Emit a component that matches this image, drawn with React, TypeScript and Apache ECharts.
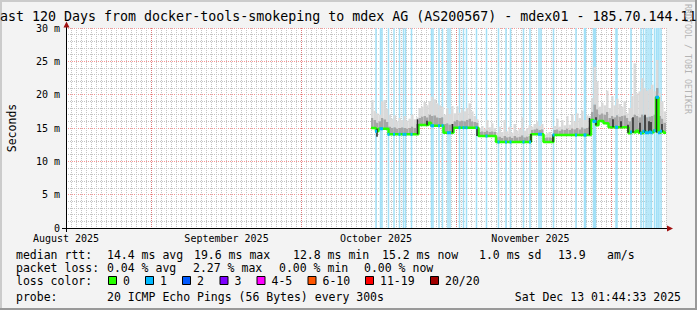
import React, { useEffect, useRef } from 'react';
import * as echarts from 'echarts';

// ---------- data ----------
const titleText = 'ast 120 Days from docker-tools-smokeping to mdex AG (AS200567) - mdex01 - 185.70.144.11';
const yAxisName = 'Seconds';
const watermark = 'RRDTOOL / TOBI OETIKER';

const monthLabels = ['August 2025', 'September 2025', 'October 2025', 'November 2025'];
const monthLabelDays = [0, 32.1, 62, 92.9];
const monthStartDays = [17, 47, 78, 109];

const sampleStartDay = 61;
const sampleStepDays = 0.5;
const axisEndDay = 120;

const medianMs = [
  15.0, 15.0, 14.5, 14.9, 14.9, 14.9, 14.9,
  14.05, 14.05, 14.05, 14.05, 14.05, 14.05, 14.05, 14.05, 14.05, 14.05, 14.05, 14.05,
  15.45, 15.45, 15.45, 15.45, 15.8, 15.35, 15.35, 15.35, 15.35, 15.35,
  14.3, 14.3, 14.3, 14.3,
  15.05, 15.05, 15.05, 15.05, 15.05, 15.05, 15.05, 15.05, 15.05, 15.05,
  13.8, 13.8, 13.8, 13.8, 13.8, 13.8, 13.8,
  12.9, 12.9, 12.9, 12.9, 12.9, 12.9, 12.9, 12.9, 12.9, 12.9, 12.9, 12.9, 12.9, 12.9,
  14.05, 14.05, 14.05, 14.05, 14.05,
  12.9, 12.9, 12.9, 12.9,
  13.95, 13.95, 13.95, 13.95, 13.95, 13.95, 13.95, 13.95, 13.95, 13.95, 13.95, 13.95, 13.95, 13.95, 13.95,
  16.2, 16.0, 15.4, 16.05, 16.05, 15.7, 15.7,
  15.1, 15.1, 15.1, 15.1, 15.1, 15.1, 15.1, 15.1,
  14.2, 14.4, 14.3, 14.6, 14.3, 14.2, 14.5, 14.3, 14.4, 14.3, 14.6, 19.6, 14.3, 14.5, 14.3,
];

const smokeMidMs = [
  16.5, 16.2, 15.8, 16.0, 16.5, 16.3, 15.9, 15.2, 15.0, 15.1,
  14.9, 15.0, 15.1, 15.0, 14.9, 15.0, 15.2, 15.0, 15.6, 16.5,
  16.7, 16.8, 16.6, 17.0, 16.8, 16.9, 16.6, 16.5, 16.6, 15.6,
  15.7, 15.5, 15.6, 16.0, 16.2, 16.0, 16.1, 16.0, 16.2, 16.4,
  16.0, 15.9, 15.8, 14.4, 14.5, 14.4, 14.6, 14.4, 14.5, 14.4,
  13.6, 13.7, 13.5, 13.8, 13.6, 13.7, 13.5, 13.8, 13.6, 13.7,
  13.9, 13.6, 13.7, 13.8, 14.7, 14.8, 14.9, 14.7, 14.8, 13.5,
  13.6, 13.6, 13.5, 14.7, 14.8, 14.6, 14.8, 14.7, 14.9, 14.7,
  14.9, 14.8, 15.0, 14.8, 15.1, 14.9, 15.0, 15.2, 17.4, 18.5,
  17.8, 17.0, 17.2, 17.0, 17.4, 16.5, 16.8, 16.6, 16.9, 16.7,
  16.8, 16.9, 16.5, 16.0, 16.5, 17.0, 16.8, 16.6, 17.0, 16.8,
  16.6, 16.7, 16.8, 17.0, 21.0, 16.8, 16.4, 15.8,
];

const smokeMaxMs = [
  19.2, 17.6, 17.2, 17.0, 19.0, 19.2, 17.9, 17.0, 16.4, 16.9,
  16.0, 16.5, 16.2, 16.8, 16.1, 16.4, 17.0, 16.3, 16.6, 18.0,
  18.2, 18.9, 18.4, 19.0, 19.7, 19.3, 18.7, 18.4, 18.2, 17.0,
  18.0, 17.1, 18.3, 17.2, 18.3, 17.3, 17.8, 17.5, 18.0, 18.7,
  17.5, 16.8, 16.3, 15.0, 15.3, 14.9, 16.2, 15.1, 15.7, 15.0,
  14.3, 15.2, 14.4, 16.2, 14.5, 15.2, 14.3, 15.6, 14.6, 14.9,
  16.6, 14.6, 15.0, 15.4, 15.2, 15.6, 16.0, 15.3, 15.6, 14.0,
  14.2, 14.4, 14.0, 15.3, 16.4, 15.2, 16.2, 15.4, 16.8, 15.5,
  17.0, 16.0, 17.2, 16.5, 17.6, 16.2, 16.9, 16.8, 19.5, 24.2,
  22.0, 18.2, 18.8, 18.4, 20.6, 18.0, 19.8, 18.4, 19.4, 18.6,
  18.2, 19.0, 17.2, 18.0, 19.8, 24.7, 20.2, 20.5, 22.5, 21.0,
  20.6, 20.8, 21.5, 20.5, 25.2, 20.2, 19.0, 17.5,
];

// [day, low ms, high ms] of the dark smoke strokes
const darkSpikes = [
  [62.2, 13.7, 14.9], [70.3, 14.05, 16.3], [72.2, 15.4, 16.1], [77.3, 14.3, 15.6],
  [82.2, 13.8, 15.1], [93.0, 12.9, 14.1], [97.4, 12.9, 14.0], [104.7, 13.95, 16.5],
  [106.0, 15.4, 16.6], [109.4, 15.1, 16.3], [111.0, 15.1, 16.0], [112.4, 14.3, 15.5],
  [113.4, 14.3, 16.6], [114.8, 14.3, 15.8], [115.8, 14.3, 17.0], [116.6, 14.4, 16.0],
  [117.0, 14.4, 15.9], [118.1, 14.3, 19.7], [119.2, 14.4, 15.6],
];

// days with packet loss (drawn as light-blue background lines)
const lossDays = [
  62.0, 62.9, 63.2, 64.5, 65.6, 66.7, 67.5, 67.9, 69.1, 73.1, 73.4, 74.6, 75.3,
  76.4, 76.8, 78.7, 79.5, 80.1, 82.1, 84.1, 86.5, 88.0, 88.9, 91.5, 92.8, 94.6,
  95.0, 97.5, 102.0, 103.7, 103.9, 105.5, 105.7, 105.9, 110.0, 110.2, 113.0, 115.0,
  115.5, 116.0, 116.4, 116.8, 117.1, 117.7, 118.1, 118.4, 118.6, 119.0,
];

const medianLabel = 'median rtt:';
const medianStats = ['14.4 ms avg', '19.6 ms max', '12.8 ms min', '15.2 ms now', '1.0 ms sd', '13.9', 'am/s'];
const lossLabel = 'packet loss:';
const lossStats = ['0.04 % avg', '2.27 % max', '0.00 % min', '0.00 % now'];
const lossColorLabel = 'loss color:';
const lossColorNames = ['0', '1', '2', '3', '4-5', '6-10', '11-19', '20/20'];
const lossColorValues = ['#26ff00', '#00b8ff', '#0059ff', '#7e00ff', '#ff00ff', '#ff5500', '#ff0000', '#a10000'];
const probeLabel = 'probe:';
const probeText = '20 ICMP Echo Pings (56 Bytes) every 300s';
const dateText = 'Sat Dec 13 01:44:33 2025';

// ---------- layout ----------
const W = 697;
const H = 310;
const MONO = '"DejaVu Sans Mono", monospace';
const LEG_FONT = `11.5px ${MONO}`;
const medianStatX = [107, 194, 293, 382, 479, 558, 607];
const lossStatX = [107, 193, 279, 364];
const lossBoxX = [108, 145, 182, 219.5, 256.5, 307.5, 365, 430];
const rowY = [255, 268, 281, 297];
const LOSS_BG = '#a2e0f7';
const GRID_MINOR = '#c4c4c4';
const GRID_MAJOR = 'rgba(240,60,60,0.55)';

function legendText(text: string, x: number, y: number, align = 'left') {
  return {
    type: 'text',
    x,
    y,
    silent: true,
    style: {
      text,
      fill: '#000',
      font: LEG_FONT,
      align,
      verticalAlign: 'middle',
      textAlign: align,
      textVerticalAlign: 'middle',
    },
  };
}

export default function App() {
  const ref = useRef<HTMLDivElement>(null);

  useEffect(() => {
    if (!ref.current) return;
    const chart = echarts.init(ref.current, undefined, { renderer: 'svg' });

    const sampleDays = medianMs.map((_, i) => sampleStartDay + i * sampleStepDays);
    const last = medianMs.length - 1;
    const medianLine = medianMs.map((v, i) => [sampleDays[i], v]);
    medianLine.push([axisEndDay, medianMs[last]]);
    const smokeData = medianMs.map((m, i) => [sampleDays[i], m, smokeMidMs[i], smokeMaxMs[i]]);

    const medianAt = (d: number) => {
      const idx = Math.floor((d - sampleStartDay) / sampleStepDays);
      return medianMs[Math.max(0, Math.min(last, idx))];
    };
    const lossDots = lossDays.filter((d) => d >= sampleStartDay).map((d) => [d, medianAt(d)]);

    const graphic: any[] = [
      // frame
      { type: 'line', silent: true, shape: { x1: 0, y1: 1, x2: W, y2: 1 }, style: { stroke: '#cbcbcb', lineWidth: 2 } },
      { type: 'line', silent: true, shape: { x1: 1, y1: 0, x2: 1, y2: H }, style: { stroke: '#cbcbcb', lineWidth: 2 } },
      { type: 'line', silent: true, shape: { x1: 0, y1: H - 1, x2: W, y2: H - 1 }, style: { stroke: '#999999', lineWidth: 2 } },
      { type: 'line', silent: true, shape: { x1: W - 1, y1: 0, x2: W - 1, y2: H }, style: { stroke: '#999999', lineWidth: 2 } },
      // title
      {
        type: 'text', x: 0, y: 16.5, silent: true,
        style: { text: titleText, fill: '#000', font: `13.3px ${MONO}`, align: 'left', verticalAlign: 'middle', textAlign: 'left', textVerticalAlign: 'middle' },
      },
      // y axis name
      {
        type: 'text', x: 12, y: 128, rotation: Math.PI / 2, silent: true,
        style: { text: yAxisName, fill: '#000', font: `11.5px ${MONO}`, align: 'center', verticalAlign: 'middle', textAlign: 'center', textVerticalAlign: 'middle' },
      },
      // watermark
      {
        type: 'text', x: 688, y: 59, rotation: -Math.PI / 2, silent: true,
        style: { text: watermark, fill: '#b4b4b4', font: `8.3px ${MONO}`, align: 'center', verticalAlign: 'middle', textAlign: 'center', textVerticalAlign: 'middle' },
      },
      // axis extensions and arrows
      { type: 'line', silent: true, z: 10, shape: { x1: 62, y1: 228.5, x2: 668, y2: 228.5 }, style: { stroke: '#000', lineWidth: 1 } },
      { type: 'line', silent: true, z: 10, shape: { x1: 66.5, y1: 232, x2: 66.5, y2: 27 }, style: { stroke: '#000', lineWidth: 1 } },
      { type: 'polygon', silent: true, z: 10, shape: { points: [[667, 225.5], [667, 231.5], [673, 228.5]] }, style: { fill: '#a01010' } },
      { type: 'polygon', silent: true, z: 10, shape: { points: [[63.5, 27.5], [69.5, 27.5], [66.5, 21.5]] }, style: { fill: '#a01010' } },
      // legend
      legendText(medianLabel, 16, rowY[0]),
      ...medianStats.map((t, i) => legendText(t, medianStatX[i], rowY[0])),
      legendText(lossLabel, 16, rowY[1]),
      ...lossStats.map((t, i) => legendText(t, lossStatX[i], rowY[1])),
      legendText(lossColorLabel, 16, rowY[2]),
      ...lossColorNames.map((t, i) => legendText(t, lossBoxX[i] + 15, rowY[2])),
      ...lossColorValues.map((c, i) => ({
        type: 'rect', silent: true,
        shape: { x: lossBoxX[i] + 0.5, y: rowY[2] - 4.5, width: 8, height: 8 },
        style: { fill: c, stroke: '#000', lineWidth: 1 },
      })),
      legendText(probeLabel, 16, rowY[3]),
      legendText(probeText, 107, rowY[3]),
      legendText(dateText, 681, rowY[3], 'right'),
    ];

    const option: any = {
      animation: false,
      backgroundColor: '#f3f3f3',
      grid: { left: 66, top: 28, width: 600, height: 200, show: true, backgroundColor: '#ffffff', borderWidth: 0 },
      xAxis: {
        type: 'value', min: 0, max: axisEndDay, interval: 1,
        axisLine: { show: true, lineStyle: { color: '#000', width: 1 } },
        axisTick: { show: false },
        axisLabel: {
          show: true,
          customValues: monthLabelDays,
          formatter: (v: number) => {
            const k = monthLabelDays.findIndex((d) => Math.abs(d - v) < 1e-6);
            return k >= 0 ? monthLabels[k] : '';
          },
          fontFamily: MONO, fontSize: 10, color: '#000', margin: 5,
          showMinLabel: true, showMaxLabel: true, hideOverlap: false,
        },
        splitLine: { show: true, lineStyle: { color: GRID_MINOR, type: [1, 1], width: 1 } },
      },
      yAxis: {
        type: 'value', min: 0, max: 30, interval: 5,
        axisLine: { show: true, onZero: false, lineStyle: { color: '#000', width: 1 } },
        axisTick: { show: false },
        axisLabel: {
          formatter: (v: number) => (v === 0 ? '0' : `${v} m`),
          fontFamily: MONO, fontSize: 10, color: '#000', margin: 6,
        },
        splitLine: { show: true, lineStyle: { color: GRID_MAJOR, type: [1, 1], width: 1 } },
        minorTick: { show: false, splitNumber: 5 },
        minorSplitLine: { show: true, lineStyle: { color: GRID_MINOR, type: [1, 1], width: 1 } },
      },
      series: [
        {
          name: 'monthGrid', type: 'custom', silent: true, z: 1, clip: true,
          data: monthStartDays.map((d) => [d, 0]),
          encode: { x: 0, y: 1 },
          renderItem: (params: any, api: any) => {
            const cs = params.coordSys;
            const x = Math.round(api.coord([api.value(0), 0])[0]) + 0.5;
            return { type: 'line', shape: { x1: x, y1: cs.y, x2: x, y2: cs.y + cs.height }, style: { stroke: GRID_MAJOR, lineWidth: 1, lineDash: [1, 1] } };
          },
        },
        {
          name: 'lossBackground', type: 'custom', silent: true, z: 1, clip: true,
          data: lossDays.map((d) => [d, 0]),
          encode: { x: 0, y: 1 },
          renderItem: (params: any, api: any) => {
            const cs = params.coordSys;
            const x = api.coord([api.value(0), 0])[0];
            return { type: 'rect', shape: { x: x - 0.75, y: cs.y, width: 1.5, height: cs.height }, style: { fill: LOSS_BG } };
          },
        },
        {
          name: 'smoke', type: 'custom', silent: true, z: 2, clip: true,
          data: smokeData,
          encode: { x: 0, y: [1, 2, 3] },
          renderItem: (params: any, api: any) => {
            const d = api.value(0);
            const pMed = api.coord([d, api.value(1)]);
            const pMid = api.coord([d, api.value(2)]);
            const pMax = api.coord([d, api.value(3)]);
            const pEnd = api.coord([d + sampleStepDays, api.value(1)]);
            const w = pEnd[0] - pMed[0];
            return {
              type: 'group',
              children: [
                { type: 'rect', shape: { x: pMed[0], y: pMax[1], width: w, height: pMid[1] - pMax[1] }, style: { fill: '#d9d9d9' } },
                { type: 'rect', shape: { x: pMed[0], y: pMid[1], width: w, height: pMed[1] - pMid[1] }, style: { fill: '#a6a6a6' } },
              ],
            };
          },
        },
        {
          name: 'median', type: 'line', step: 'end', z: 3, silent: true,
          showSymbol: false, symbol: 'none', data: medianLine,
          lineStyle: { color: lossColorValues[0], width: 2.5 },
        },
        {
          name: 'darkSmoke', type: 'custom', silent: true, z: 4, clip: true,
          data: darkSpikes,
          encode: { x: 0, y: [1, 2] },
          renderItem: (params: any, api: any) => {
            const p1 = api.coord([api.value(0), api.value(1)]);
            const p2 = api.coord([api.value(0), api.value(2)]);
            return { type: 'rect', shape: { x: p1[0] - 0.75, y: p2[1], width: 1.5, height: p1[1] - p2[1] }, style: { fill: '#262626' } };
          },
        },
        {
          name: 'medianLoss', type: 'custom', silent: true, z: 5, clip: true,
          data: lossDots,
          encode: { x: 0, y: 1 },
          renderItem: (params: any, api: any) => {
            const p = api.coord([api.value(0), api.value(1)]);
            return { type: 'rect', shape: { x: p[0] - 1, y: p[1] - 1.5, width: 2, height: 3 }, style: { fill: lossColorValues[1] } };
          },
        },
      ],
      graphic,
    };

    chart.setOption(option);
    return () => chart.dispose();
  }, []);

  return <div ref={ref} style={{ position: 'absolute', left: 0, top: 0, width: W, height: H }} />;
}
